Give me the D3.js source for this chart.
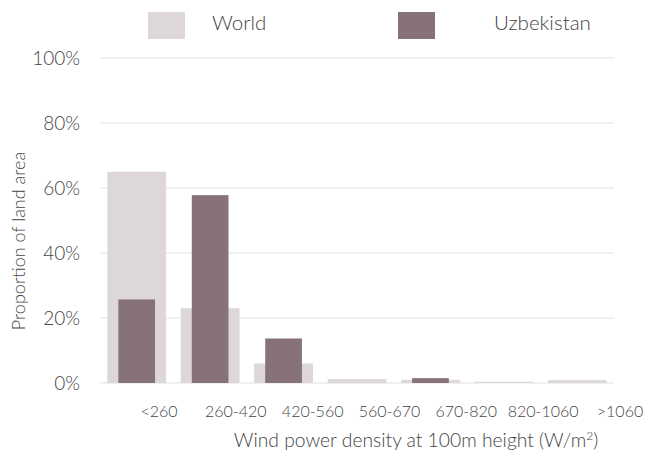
<!DOCTYPE html>
<html lang="en">
<head>
    <meta charset="UTF-8">
    <script src="https://cdn.jsdelivr.net/npm/d3@7.8.5/dist/d3.min.js"></script>
    <title>Wind power density - Uzbekistan</title>
    <style>
        body { margin: 0; background: #fff; }
        text { font-family: Lato, "Open Sans", sans-serif; font-weight: 300; fill: #444; }
        .grid line { stroke: #f0f0f0; stroke-width: 2; }
    </style>
</head>
<body>
    <svg width="656" height="459"></svg>
    <script type="text/javascript">
        // categories and values (percent of land area)
        var categories = ["<260", "260-420", "420-560", "560-670", "670-820", "820-1060", ">1060"];
        var world = [65, 23, 6, 1.2, 1, 0.4, 0.9];
        var uzbekistan = [25.7, 57.8, 13.7, 0, 1.5, 0, 0];
        var yTicks = [0, 20, 40, 60, 80, 100];

        var worldColor = "#ddd7d8",
            uzbekColor = "#87727a";

        var svg = d3.select("svg");

        var xScale = d3.scaleBand().domain(categories).range([100, 614])
                .paddingInner(0.2).paddingOuter(0.1),
            yScale = d3.scaleLinear().domain([0, 100]).range([383, 58]),
            // labels sit a little right of the bars in the original
            labelScale = d3.scalePoint().domain(categories).range([159, 620]);

        // gridlines
        svg.append("g").attr("class", "grid")
            .selectAll("line")
            .data(yTicks)
            .enter().append("line")
            .attr("x1", 100).attr("x2", 614)
            .attr("y1", function(d){ return yScale(d); })
            .attr("y2", function(d){ return yScale(d); });

        // y axis labels
        svg.append("g").selectAll("text")
            .data(yTicks)
            .enter().append("text")
            .attr("x", 80)
            .attr("y", function(d){ return yScale(d) + 7; })
            .attr("text-anchor", "end")
            .style("font-size", "19px")
            .text(function(d){ return d + "%"; });

        // world bars (wide, behind)
        svg.append("g").selectAll("rect")
            .data(world)
            .enter().append("rect")
            .attr("x", function(d, i){ return xScale(categories[i]); })
            .attr("y", function(d){ return yScale(d); })
            .attr("width", xScale.bandwidth())
            .attr("height", function(d){ return yScale(0) - yScale(d); })
            .attr("fill", worldColor);

        // uzbekistan bars (narrow, in front)
        var inner = xScale.bandwidth() * 0.625;
        svg.append("g").selectAll("rect")
            .data(uzbekistan)
            .enter().append("rect")
            .attr("x", function(d, i){ return xScale(categories[i]) + (xScale.bandwidth() - inner) / 2; })
            .attr("y", function(d){ return yScale(d); })
            .attr("width", inner)
            .attr("height", function(d){ return yScale(0) - yScale(d); })
            .attr("fill", uzbekColor);

        // x labels
        svg.append("g").selectAll("text")
            .data(categories)
            .enter().append("text")
            .attr("x", function(d){ return labelScale(d); })
            .attr("y", 417)
            .attr("text-anchor", "middle")
            .style("font-size", "16px")
            .text(function(d){ return d; });

        // axis titles
        svg.append("text")
            .attr("x", 416).attr("y", 447)
            .attr("text-anchor", "middle")
            .style("font-size", "19.3px")
            .html("Wind power density at 100m height (W/m<tspan dy='-7' font-size='12px'>2</tspan><tspan dy='7'>)</tspan>");

        svg.append("text")
            .attr("transform", "translate(25, 241) rotate(-90)")
            .attr("text-anchor", "middle")
            .style("font-size", "18px")
            .text("Proportion of land area");

        // legend
        var legend = [
            {name: "World", color: worldColor, x: 148, tx: 212},
            {name: "Uzbekistan", color: uzbekColor, x: 398, tx: 494}
        ];
        var lg = svg.append("g").selectAll("g").data(legend).enter().append("g");
        lg.append("rect")
            .attr("x", function(d){ return d.x; })
            .attr("y", 12)
            .attr("width", 37).attr("height", 27)
            .attr("fill", function(d){ return d.color; });
        lg.append("text")
            .attr("x", function(d){ return d.tx; })
            .attr("y", 30)
            .style("font-size", "20.5px")
            .text(function(d){ return d.name; });
    </script>
</body>
</html>
